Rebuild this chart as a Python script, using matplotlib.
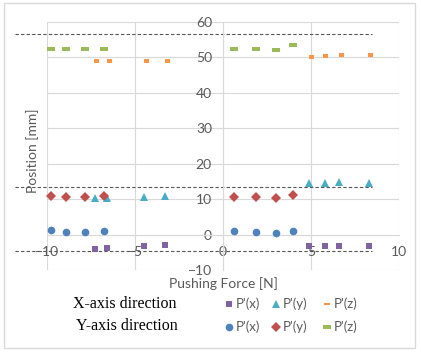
import numpy as np
import matplotlib
matplotlib.use('Agg')
import matplotlib.pyplot as plt
from matplotlib.lines import Line2D
from matplotlib.patches import Rectangle

# X-axis direction measurements
x_dir_force = [-7.3, -6.6, -4.5, -3.3, 4.9, 5.8, 6.6, 8.3]
x_dir_px = [-4.0, -3.8, -3.2, -2.9, -3.1, -3.1, -3.1, -3.1]
x_dir_py = [10.4, 10.3, 10.6, 10.9, 14.6, 14.6, 14.8, 14.6]
x_dir_force_z = [-7.2, -6.5, -4.4, -3.2, 5.0, 5.8, 6.7, 8.35]
x_dir_pz = [48.9, 48.9, 49.1, 49.1, 50.2, 50.4, 50.7, 50.7]

# Y-axis direction measurements
y_dir_force = [-9.8, -8.9, -7.85, -6.75, 0.65, 1.9, 3.0, 3.95]
y_dir_px = [1.2, 0.8, 0.8, 0.9, 0.9, 0.7, 0.5, 0.9]
y_dir_py = [11.0, 10.6, 10.7, 11.0, 10.7, 10.6, 10.3, 11.1]
y_dir_pz = [52.3, 52.5, 52.3, 52.5, 52.3, 52.5, 52.1, 53.6]

ref_levels = [56.7, 13.4, -4.6]
ref_span = [-11.8, 8.45]

xticks = [-10, -5, 0, 5, 10]
yticks = [-10, 0, 10, 20, 30, 40, 50, 60]

purple = '#8064A2'
teal = '#4BACC6'
orange = '#F79646'
blue = '#4F81BD'
red = '#C0504D'
green = '#9BBB59'
grid_c = '#d9d9d9'
txt_c = '#595959'

dash_long = [(-1, -0.36), (1, -0.36), (1, 0.36), (-1, 0.36), (-1, -0.36)]
dash_short = [(-1, -0.62), (1, -0.62), (1, 0.62), (-1, 0.62), (-1, -0.62)]
dash_leg = [(-1, -0.45), (1, -0.45), (1, 0.45), (-1, 0.45), (-1, -0.45)]

styles = [
    (x_dir_force, x_dir_px, dict(marker='s', color=purple, ms=4.8, mew=0)),
    (x_dir_force, x_dir_py, dict(marker='^', color=teal, ms=5.8, mew=0)),
    (x_dir_force_z, x_dir_pz, dict(marker=dash_short, color=orange, ms=3.6, mew=0)),
    (y_dir_force, y_dir_px, dict(marker='o', color=blue, ms=5.5, mew=0)),
    (y_dir_force, y_dir_py, dict(marker='D', color=red, ms=4.6, mew=0)),
    (y_dir_force, y_dir_pz, dict(marker=dash_long, color=green, ms=6.2, mew=0)),
]
# legend versions of the two dash markers
legend_override = {2: dict(marker=dash_leg, ms=4.6), 5: dict(marker=dash_long, ms=6.2)}

plt.rcParams['font.family'] = ['Lato', 'DejaVu Sans']

fig = plt.figure(figsize=(4.21, 3.52), dpi=100)
W, H = 421.0, 352.0
ax = fig.add_axes([47 / W, 1 - 270 / H, 352 / W, 248 / H])

ax.set_xlim(-10, 10)
ax.set_ylim(-10, 60)
ax.set_xticks(xticks)
ax.set_yticks(yticks)
ax.grid(True, color=grid_c, lw=0.8)
ax.set_axisbelow(True)
for s in ['top', 'right']:
    ax.spines[s].set_visible(False)
ax.spines['left'].set_position('zero')
ax.spines['bottom'].set_position('zero')
ax.spines['left'].set_color(grid_c)
ax.spines['bottom'].set_color(grid_c)
ax.tick_params(axis='x', length=0, pad=8.5, labelsize=10, labelcolor=txt_c)
ax.tick_params(axis='y', length=0, pad=8, labelsize=10, labelcolor=txt_c)

for lvl in ref_levels:
    ax.plot(ref_span, [lvl, lvl], color='#555555', lw=0.8, ls=(0, (3, 2)), clip_on=False, zorder=2)

for xs, ys, st in styles:
    ax.plot(xs, ys, ls='none', zorder=3, clip_on=False, **st)

fig.text(33 / W, 1 - 151 / H, 'Position [mm]', rotation=90, ha='center', va='center',
         fontsize=10, color=txt_c)
fig.text(223 / W, 1 - 284 / H, 'Pushing Force [N]', ha='center', va='center',
         fontsize=10, color=txt_c)

# legend rows
fig.text(125 / W, 1 - 304 / H, 'X-axis direction', ha='center', va='center',
         fontsize=11.5, family='Liberation Serif', color='black')
fig.text(127 / W, 1 - 326 / H, 'Y-axis direction', ha='center', va='center',
         fontsize=11.5, family='Liberation Serif', color='black')
labels = ["P'(x)", "P'(y)", "P'(z)"]
cols_x = [229, 276, 327]
rows_y = [304, 327]
for i, (xs, ys, st) in enumerate(styles):
    r = i // 3
    c = i % 3
    fx = cols_x[c] / W
    fy = 1 - rows_y[r] / H
    st2 = dict(st)
    st2.update(legend_override.get(i, {}))
    fig.add_artist(Line2D([fx], [fy], ls='none', transform=fig.transFigure, **st2))
    fig.text(fx + 7 / W, fy, labels[c], ha='left', va='center', fontsize=9.5, color=txt_c)

fig.add_artist(Rectangle((4 / W, 1 - 348 / H), 411 / W, 345 / H, transform=fig.transFigure,
                         fill=False, edgecolor=grid_c, lw=1))

fig.savefig('out.png', dpi=100)
